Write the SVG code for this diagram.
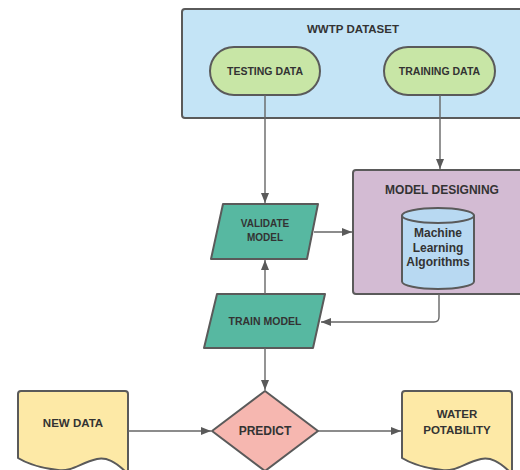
<svg xmlns="http://www.w3.org/2000/svg" width="520" height="470" viewBox="0 0 520 470">
<style>
.sh{stroke:#5a5a5a;stroke-width:2;stroke-linejoin:round}
.t{font-family:"Liberation Sans",Arial,sans-serif;font-weight:bold;fill:#333;text-anchor:middle;dominant-baseline:central}
.c{fill:none;stroke:#666;stroke-width:1.4}
</style>
<defs>
<marker id="ah" markerUnits="userSpaceOnUse" markerWidth="11" markerHeight="9" refX="10" refY="4" orient="auto">
<path d="M0,0 L10,4 L0,8 z" fill="#5a5a5a"/>
</marker>
</defs>
<rect width="520" height="470" fill="#fff"/>
<g id="wwtp-dataset">
<rect class="sh" x="182" y="9" width="345" height="109" rx="3" fill="#c4e4f6"/>
<text class="t" x="353" y="29" font-size="11.5">WWTP DATASET</text>
</g>
<g id="testing-data">
<rect class="sh" x="210" y="47" width="110" height="48" rx="24" fill="#c8e6a6"/>
<text class="t" x="265" y="71" font-size="10.5">TESTING DATA</text>
</g>
<g id="training-data">
<rect class="sh" x="384" y="47" width="111" height="48" rx="24" fill="#c8e6a6"/>
<text class="t" x="439.5" y="71" font-size="10.5">TRAINING DATA</text>
</g>
<g id="model-designing">
<rect class="sh" x="353" y="170" width="174" height="124" rx="3" fill="#d3bbd3"/>
<text class="t" x="442" y="190" font-size="12">MODEL DESIGNING</text>
</g>
<g id="ml-algorithms">
<path class="sh" d="M402,215.5 L402,281.5 A36,7.5 0 0 0 474,281.5 L474,215.5 Z" fill="#b8d9f2"/>
<ellipse class="sh" cx="438" cy="215.5" rx="36" ry="7.5" fill="#b8d9f2"/>
<text class="t" x="438" y="233" font-size="12">Machine</text>
<text class="t" x="438" y="248" font-size="12">Learning</text>
<text class="t" x="438" y="262" font-size="12">Algorithms</text>
</g>
<g id="validate-model">
<polygon class="sh" points="223,204 318,204 307,259 211,259" fill="#57b8a1"/>
<text class="t" x="265" y="223" font-size="10">VALIDATE</text>
<text class="t" x="265" y="237" font-size="10">MODEL</text>
</g>
<g id="train-model">
<polygon class="sh" points="217,294 325,294 313,348 204,348" fill="#57b8a1"/>
<text class="t" x="265" y="321" font-size="10.5">TRAIN MODEL</text>
</g>
<g id="predict">
<polygon class="sh" points="265,391 318,431 265,471 212,431" fill="#f6b7b0"/>
<text class="t" x="265" y="431" font-size="12">PREDICT</text>
</g>
<g id="new-data">
<path class="sh" d="M21,391 L125,391 Q128,391 128,394 L128,474 C115,461 106,457 97,459 C80,463 72,472 58,470 C40,468 26,463 18,458 L18,394 Q18,391 21,391 Z" fill="#fde9a6"/>
<text class="t" x="73" y="423" font-size="11.5">NEW DATA</text>
</g>
<g id="water-potability">
<path class="sh" d="M405,391 L509,391 Q512,391 512,394 L512,474 C499,461 490,457 481,459 C464,463 456,472 442,470 C424,468 410,463 402,458 L402,394 Q402,391 405,391 Z" fill="#fde9a6"/>
<text class="t" x="457" y="414" font-size="11.5">WATER</text>
<text class="t" x="457" y="430" font-size="11.5">POTABILITY</text>
</g>
<g id="connectors">
<path class="c" d="M265,95 L265,203" marker-end="url(#ah)"/>
<path class="c" d="M440,95 L440,169" marker-end="url(#ah)"/>
<path class="c" d="M314,232 L352,232" marker-end="url(#ah)"/>
<path class="c" d="M439,294 L439,317 Q439,322 434,322 L321,322" marker-end="url(#ah)"/>
<path class="c" d="M265,294 L265,260" marker-end="url(#ah)"/>
<path class="c" d="M265,348 L265,390" marker-end="url(#ah)"/>
<path class="c" d="M128,431 L211,431" marker-end="url(#ah)"/>
<path class="c" d="M318,431 L401,431" marker-end="url(#ah)"/>
</g>
</svg>
